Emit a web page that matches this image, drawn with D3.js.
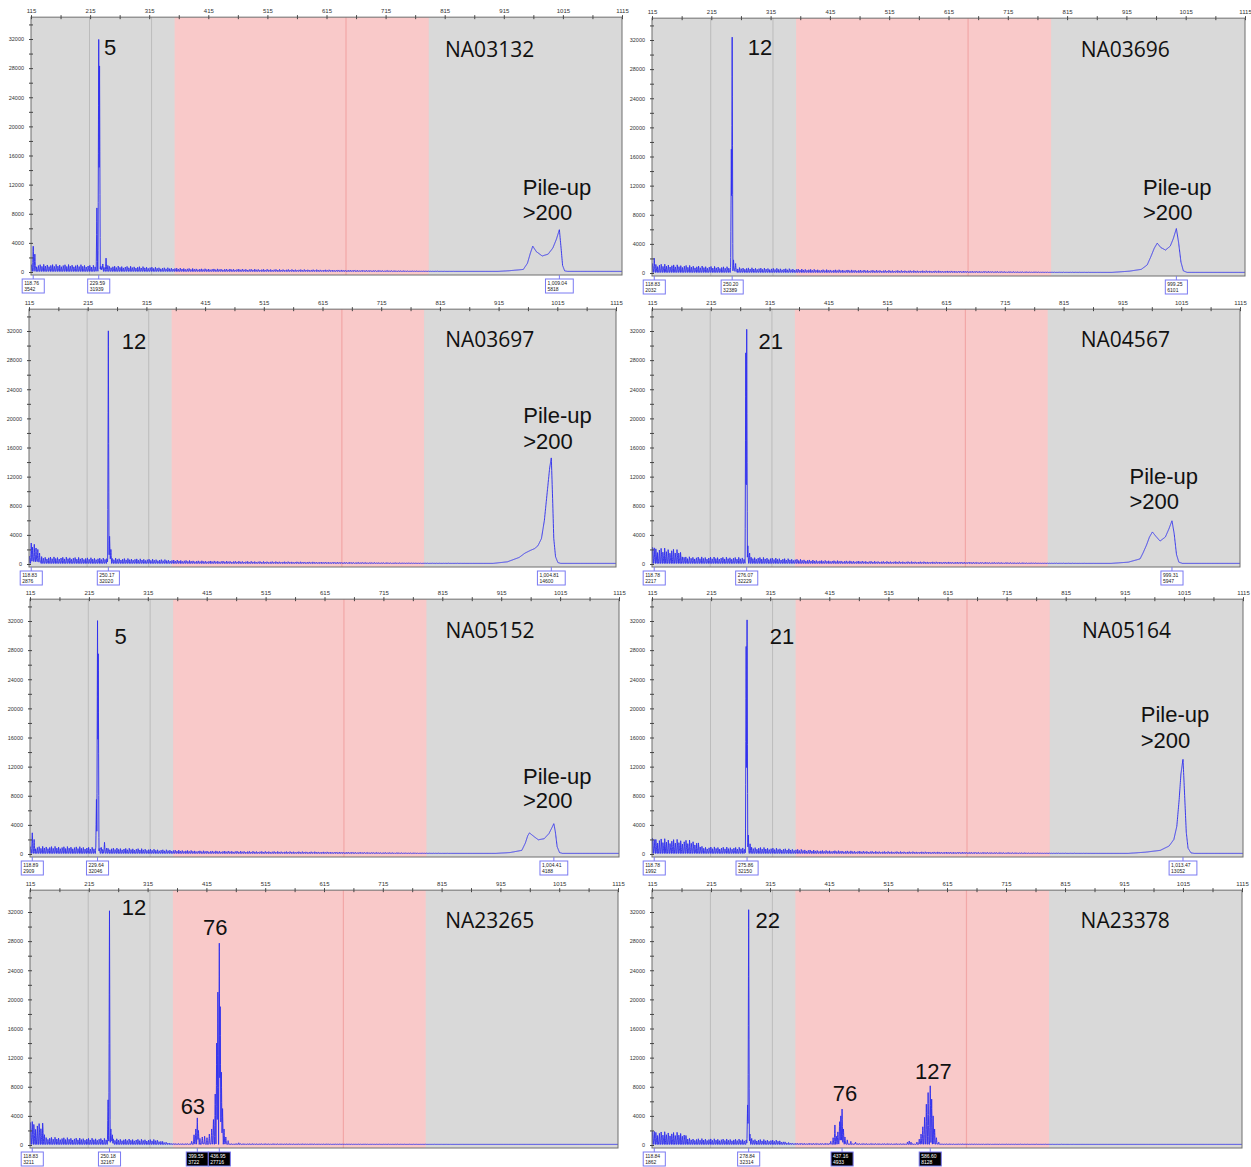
<!DOCTYPE html>
<html>
<head>
<meta charset="utf-8">
<script src="https://cdn.jsdelivr.net/npm/d3@7"></script>
<style>
  body { margin: 0; background: #fff; }
  svg { display: block; }
</style>
</head>
<body>
<svg id="chart" width="1251" height="1167"></svg>
<script>
// ---- Samples and axis ticks -------------------------------------------
const samples = ["NA03132", "NA03696", "NA03697", "NA04567", "NA05152", "NA05164", "NA23265", "NA23378"];
const xTickLabels = [115, 215, 315, 415, 515, 615, 715, 815, 915, 1015, 1115];
const xMinorTicks = [165, 265, 365, 465, 565, 665, 765, 865, 965, 1065];
const yTickLabels = [0, 4000, 8000, 12000, 16000, 20000, 24000, 28000, 32000];
const yMinorTicks = [2000, 6000, 10000, 14000, 18000, 22000, 26000, 30000, 34000];

// size windows (bp): shaded repeat window, its divider, and two guide lines
const repeatWindow = [358, 788];
const windowDivider = 648;
const guideLines = [214, 319];

// ---- Per-sample traces: background ladder level [bp, rfu],
//      discrete peaks [bp, rfu], pile-up outline [bp, rfu],
//      called peaks [bp, rfu, dark?], annotations [text, bp, rfu, anchor, kind]
const noise_NA03132 = [[115,1000],[140,1050],[200,1000],[224,900],[240,850],[300,750],[340,600],[400,450],[500,380],[600,320],[700,220],[790,130],[850,70],[1115,50]];
const peaks_NA03132 = [[118.76,3542],[121.5,2450],[226.5,8800],[229.59,31939],[231,28300],[234.5,600],[236.5,1100],[242,1900],[245,900]];
const pileup_NA03132 = [[905,80],[925,180],[948,350],[955,1200],[960,2600],[964,3550],[970,2800],[980,2200],[990,2450],[998,3300],[1004,4500],[1009.04,5818],[1012,3200],[1014.5,900],[1018,150],[1025,60]];
const calls_NA03132 = [[118.76,3542],[229.59,31939],[1009.04,5818]];
const notes_NA03132 = [["5",249,29800,"middle"],["NA03132",891,29500,"middle","name"],["Pile-up",947,10570,"start"],[">200",947,7140,"start"]];

const noise_NA03696 = [[115,1300],[150,1150],[200,950],[246,850],[260,750],[320,650],[400,470],[500,380],[650,260],[790,130],[900,70],[1115,50]];
const peaks_NA03696 = [[118.83,2032],[248.8,17000],[250.2,32389],[252.5,1800],[256,1300]];
const pileup_NA03696 = [[890,80],[920,250],[940,500],[950,1100],[956,2200],[962,3400],[967,4100],[973,3500],[981,3150],[989,3700],[994,4700],[999.25,6101],[1003,4200],[1007,1500],[1011,300],[1018,60]];
const calls_NA03696 = [[118.83,2032],[250.20,32389],[999.25,6101]];
const notes_NA03696 = [["12",297,29930,"middle"],["NA03696",913,29660,"middle","name"],["Pile-up",943,10710,"start"],[">200",943,7280,"start"]];

const noise_NA03697 = [[115,1100],[140,1000],[200,900],[246,800],[262,800],[330,650],[400,450],[500,360],[650,250],[790,130],[900,70],[1115,50]];
const peaks_NA03697 = [[118.83,2876],[121,2300],[124,2700],[127,2200],[130,2000],[133,1500],[250.17,32020],[252.3,3800],[254.5,2000]];
const pileup_NA03697 = [[905,80],[930,300],[950,900],[960,1500],[970,1900],[976,2100],[982,2500],[988,3500],[993,6000],[998,10000],[1002,13200],[1004.81,14600],[1007,9000],[1009,3500],[1012,1000],[1016,200],[1022,60]];
const calls_NA03697 = [[118.83,2876],[250.17,32020],[1004.81,14600]];
const notes_NA03697 = [["12",294,29520,"middle"],["NA03697",900,29790,"middle","name"],["Pile-up",957,19360,"start"],[">200",957,15790,"start"]];

const noise_NA04567 = [[115,2300],[150,2100],[162,1900],[170,1000],[225,950],[272,900],[290,950],[330,800],[400,500],[500,370],[650,260],[790,130],[900,70],[1115,50]];
const peaks_NA04567 = [[118.78,2217],[274.5,29000],[276.07,32229],[278,2500],[281,1500]];
const pileup_NA04567 = [[895,80],[925,250],[945,700],[950,1500],[956,2600],[961,3700],[966,4400],[972,3800],[979,3150],[988,3700],[994,4800],[999.31,5947],[1003,4200],[1007,1300],[1011,250],[1018,60]];
const calls_NA04567 = [[118.78,2217],[276.07,32229],[999.31,5947]];
const notes_NA04567 = [["21",317,29520,"middle"],["NA04567",920,29790,"middle","name"],["Pile-up",927,10980,"start"],[">200",927,7550,"start"]];

const noise_NA05152 = [[115,1000],[140,1050],[200,1000],[224,900],[240,850],[300,750],[340,600],[400,450],[500,370],[600,310],[700,220],[790,130],[850,70],[1115,50]];
const peaks_NA05152 = [[118.89,2909],[122,2000],[227.8,7500],[229.64,32046],[230.9,27500],[236,900],[241.5,1600],[245,800]];
const pileup_NA05152 = [[905,80],[930,200],[950,500],[956,1500],[960,2500],[963,2900],[969,2500],[978,1950],[988,2100],[996,2800],[1001,3600],[1004.41,4188],[1007,3000],[1010,1000],[1014,200],[1020,60]];
const calls_NA05152 = [[118.89,2909],[229.64,32046],[1004.41,4188]];
const notes_NA05152 = [["5",269,28830,"middle"],["NA05152",896,29660,"middle","name"],["Pile-up",952,9610,"start"],[">200",952,6320,"start"]];

const noise_NA05164 = [[115,2200],[180,1900],[192,1700],[200,1000],[272,900],[290,950],[330,780],[400,500],[500,360],[650,250],[790,130],[900,70],[1115,50]];
const peaks_NA05164 = [[118.78,1992],[274.3,28500],[275.86,32150],[278,2600],[281,1400]];
const pileup_NA05164 = [[920,80],[950,250],[975,500],[990,1100],[998,2000],[1003,3800],[1007,7500],[1010,11000],[1013.47,13052],[1016,8500],[1019,3000],[1022,800],[1027,150],[1035,60]];
const calls_NA05164 = [[118.78,1992],[275.86,32150],[1013.47,13052]];
const notes_NA05164 = [["21",335,28830,"middle"],["NA05164",918,29660,"middle","name"],["Pile-up",942,18120,"start"],[">200",942,14550,"start"]];

const noise_NA23265 = [[115,3100],[137,3000],[141,1100],[200,950],[246,900],[262,850],[330,750],[345,400],[360,200],[500,180],[650,140],[800,100],[950,60],[1115,50]];
const peaks_NA23265 = [[118.83,3211],[247.8,6200],[250.18,32167],[252.5,2200],[255,1400],[390,500],[394,1400],[397,2200],[399.55,3722],[401.5,2000],[404,900],[408,1100],[412,1200],[416,1000],[420,1500],[424,2200],[427,3500],[430,7000],[432.5,14000],[434.5,21000],[436.95,27716],[438.5,19000],[440.5,10000],[442.5,5000],[445,2200],[448,1100],[452,600],[470,300]];
const pileup_NA23265 = [];
const calls_NA23265 = [[118.83,3211],[250.18,32167],[399.55,3722,1],[436.95,27716,1]];
const notes_NA23265 = [["12",292,31580,"middle"],["76",430,28830,"middle"],["63",392,4260,"middle"],["NA23265",897,29790,"middle","name"]];

const noise_NA23378 = [[115,1900],[168,1700],[178,900],[265,800],[290,800],[330,650],[345,350],[360,250],[500,200],[650,150],[800,100],[950,60],[1115,50]];
const peaks_NA23378 = [[118.84,1862],[277,5500],[278.84,32314],[281,1500],[284,900],[418,500],[422,1000],[425,2750],[427.5,1200],[430,1800],[433,3200],[435,4000],[437.16,4933],[439.5,2200],[442,1100],[446,700],[452,500],[460,400],[548,400],[551,550],[554,400],[564,400],[568,800],[571,1500],[574,2500],[577,3800],[580,5600],[583,7200],[586.6,8128],[589,6300],[591.5,4000],[594,2200],[597,1000],[601,400]];
const pileup_NA23378 = [];
const calls_NA23378 = [[118.84,1862],[278.84,32314],[437.16,4933,1],[586.60,8128,1]];
const notes_NA23378 = [["22",311,29790,"middle"],["76",442,6040,"middle"],["127",592,9060,"middle"],["NA23378",917,29790,"middle","name"]];

// lookup table assembled from the arrays above
const traces = {
  NA03132: { noise: noise_NA03132, peaks: peaks_NA03132, pileup: pileup_NA03132, calls: calls_NA03132, notes: notes_NA03132 },
  NA03696: { noise: noise_NA03696, peaks: peaks_NA03696, pileup: pileup_NA03696, calls: calls_NA03696, notes: notes_NA03696 },
  NA03697: { noise: noise_NA03697, peaks: peaks_NA03697, pileup: pileup_NA03697, calls: calls_NA03697, notes: notes_NA03697 },
  NA04567: { noise: noise_NA04567, peaks: peaks_NA04567, pileup: pileup_NA04567, calls: calls_NA04567, notes: notes_NA04567 },
  NA05152: { noise: noise_NA05152, peaks: peaks_NA05152, pileup: pileup_NA05152, calls: calls_NA05152, notes: notes_NA05152 },
  NA05164: { noise: noise_NA05164, peaks: peaks_NA05164, pileup: pileup_NA05164, calls: calls_NA05164, notes: notes_NA05164 },
  NA23265: { noise: noise_NA23265, peaks: peaks_NA23265, pileup: pileup_NA23265, calls: calls_NA23265, notes: notes_NA23265 },
  NA23378: { noise: noise_NA23378, peaks: peaks_NA23378, pileup: pileup_NA23378, calls: calls_NA23378, notes: notes_NA23378 }
};

// ---- Layout: plot frame of each panel (left, right, y of zero) ---------
const frames = [
  { left: 31,  right: 622,  zero: 272 },
  { left: 652, right: 1245, zero: 273 },
  { left: 29,  right: 616,  zero: 564 },
  { left: 652, right: 1240, zero: 564 },
  { left: 30,  right: 619,  zero: 854 },
  { left: 652, right: 1243, zero: 854 },
  { left: 30,  right: 618,  zero: 1145 },
  { left: 652, right: 1242, zero: 1145 }
];

const COLORS = {
  panel: "#d9d9d9", window: "#f9c9c9", divider: "#f2a7a7", guide: "#bcbcbc",
  frame: "#6e6e6e", trace: "#3030ee", callBorder: "#7a7af2", axisText: "#333"
};
const REPEAT = 3;                // CGG ladder spacing (bp)
const toothPattern = [1, 0.78, 0.92, 0.7, 0.86, 0.97, 0.74];
const FLOOR = 80;                // detector baseline (rfu)

// Build the sampled electropherogram for one sample
function buildTrace(t) {
  const env = d3.scaleLinear(t.noise.map(d => d[0]), t.noise.map(d => d[1])).clamp(true);
  const hasPile = t.pileup.length > 0;
  const hump = hasPile ? d3.scaleLinear(t.pileup.map(d => d[0]), t.pileup.map(d => d[1])) : null;
  const lo = hasPile ? t.pileup[0][0] : 0, hi = hasPile ? t.pileup[t.pileup.length - 1][0] : 0;
  const xs = d3.range(115, 1115.001, 0.25).concat(t.peaks.map(p => p[0])).sort(d3.ascending);
  return xs.map(bp => {
    // ladder tooth
    const k = Math.floor((bp - 115) / REPEAT);
    const d = bp - 115 - REPEAT * k - 0.5;
    const f = d < 0 ? (d + 0.5) / 0.5 : (d < 1.8 ? 1 - d / 1.8 : 0);
    const top = Math.max(FLOOR, env(bp) * toothPattern[k % toothPattern.length]);
    let v = FLOOR + (top - FLOOR) * f;
    // discrete peaks
    for (const p of t.peaks) {
      const w = p[2] || 1.2;
      const dist = Math.abs(bp - p[0]);
      if (dist < w) v = Math.max(v, p[1] * (1 - dist / w));
    }
    // pile-up outline
    if (hasPile && bp >= lo && bp <= hi) v = Math.max(v, hump(bp));
    return [bp, v];
  });
}

const svg = d3.select("#chart");
svg.append("rect").attr("width", 1251).attr("height", 1167).attr("fill", "#fff");
const defs = svg.append("defs");

samples.forEach((id, i) => {
  const f = frames[i];
  const t = traces[id];
  const x = d3.scaleLinear([115, 1115], [f.left, f.right]);
  const y = d3.scaleLinear([0, 32000], [f.zero, f.zero - 233]);
  const top = y(35000), bottom = f.zero + 3;
  const g = svg.append("g").attr("class", "panel");

  // backgrounds
  g.append("rect").attr("x", f.left).attr("y", top)
    .attr("width", f.right - f.left).attr("height", bottom - top).attr("fill", COLORS.panel);
  g.append("rect").attr("x", x(repeatWindow[0])).attr("y", top)
    .attr("width", x(repeatWindow[1]) - x(repeatWindow[0])).attr("height", bottom - top)
    .attr("fill", COLORS.window);
  g.append("line").attr("x1", x(windowDivider)).attr("x2", x(windowDivider))
    .attr("y1", top).attr("y2", bottom).attr("stroke", COLORS.divider).attr("stroke-width", 1.2);
  guideLines.forEach(bp => {
    g.append("line").attr("x1", x(bp)).attr("x2", x(bp)).attr("y1", top).attr("y2", bottom)
      .attr("stroke", COLORS.guide).attr("stroke-width", 1);
  });

  // trace
  const clipId = "clip-" + id;
  defs.append("clipPath").attr("id", clipId).append("rect")
    .attr("x", f.left).attr("y", top).attr("width", f.right - f.left).attr("height", bottom - top);
  const line = d3.line().x(d => x(d[0])).y(d => y(d[1]));
  g.append("path").datum(buildTrace(t)).attr("clip-path", `url(#${clipId})`)
    .attr("d", line).attr("fill", "none").attr("stroke", COLORS.trace)
    .attr("stroke-width", 0.95).attr("stroke-linejoin", "round");

  // frame
  g.append("rect").attr("x", f.left).attr("y", top)
    .attr("width", f.right - f.left).attr("height", bottom - top)
    .attr("fill", "none").attr("stroke", COLORS.frame).attr("stroke-width", 1);

  // top size axis
  const styleAxis = sel => {
    sel.select(".domain").remove();
    sel.selectAll(".tick line").attr("stroke", "#444");
    sel.selectAll(".tick text").attr("fill", COLORS.axisText)
      .style("font-family", "'Liberation Sans', Arial, sans-serif");
  };
  g.append("g").attr("transform", `translate(0,${top})`)
    .call(d3.axisTop(x).tickValues(xTickLabels).tickSizeInner(2).tickSizeOuter(0).tickPadding(2).tickFormat(d3.format("d")))
    .call(styleAxis).selectAll(".tick text").style("font-size", "6px");
  g.append("g").attr("transform", `translate(0,${top})`)
    .call(d3.axisTop(x).tickValues(xMinorTicks).tickSizeInner(2).tickSizeOuter(0).tickFormat(""))
    .call(styleAxis);
  g.append("g").attr("transform", `translate(0,${top})`)
    .call(d3.axisBottom(x).tickValues(xTickLabels.concat(xMinorTicks)).tickSizeInner(2).tickSizeOuter(0).tickFormat(""))
    .call(styleAxis);

  // left signal axis
  g.append("g").attr("transform", `translate(${f.left},0)`)
    .call(d3.axisLeft(y).tickValues(yTickLabels).tickSizeInner(2).tickSizeOuter(0).tickPadding(5).tickFormat(d3.format("d")))
    .call(styleAxis).selectAll(".tick text").style("font-size", "5.5px");
  g.append("g").attr("transform", `translate(${f.left},0)`)
    .call(d3.axisLeft(y).tickValues(yMinorTicks).tickSizeInner(2).tickSizeOuter(0).tickFormat(""))
    .call(styleAxis);
  g.append("g").attr("transform", `translate(${f.left},0)`)
    .call(d3.axisRight(y).tickValues(yTickLabels.concat(yMinorTicks)).tickSizeInner(2).tickSizeOuter(0).tickFormat(""))
    .call(styleAxis);

  // called-peak boxes (size / height)
  const fmtSize = d3.format(",.2f"), fmtHeight = d3.format("d");
  t.calls.forEach(c => {
    const cx = x(c[0]);
    const dark = !!c[2];
    const lines = [fmtSize(c[0]), fmtHeight(c[1])];
    const w = 5 + 2.85 * d3.max(lines, s => s.length);
    const by = f.zero + 7;
    g.append("line").attr("x1", cx).attr("x2", cx).attr("y1", bottom).attr("y2", by)
      .attr("stroke", COLORS.callBorder).attr("stroke-width", 1);
    g.append("rect").attr("x", cx - w / 2).attr("y", by).attr("width", w).attr("height", 14)
      .attr("fill", dark ? "#000" : "#fff").attr("stroke", COLORS.callBorder).attr("stroke-width", 1);
    lines.forEach((s, j) => {
      g.append("text").attr("x", cx - w / 2 + 2).attr("y", by + 6 + j * 6)
        .attr("fill", dark ? "#fff" : "#222")
        .style("font-family", "'Liberation Sans', Arial, sans-serif").style("font-size", "5px")
        .text(s);
    });
  });

  // annotations
  t.notes.forEach(n => {
    const isName = n[4] === "name";
    g.append("text").attr("x", x(n[1])).attr("y", y(n[2]))
      .attr("text-anchor", n[3]).attr("fill", "#111")
      .style("font-family", isName ? "'Open Sans', sans-serif" : "'Liberation Sans', Arial, sans-serif")
      .style("font-size", isName ? "21px" : "22px")
      .text(n[0]);
  });
});
</script>
</body>
</html>
